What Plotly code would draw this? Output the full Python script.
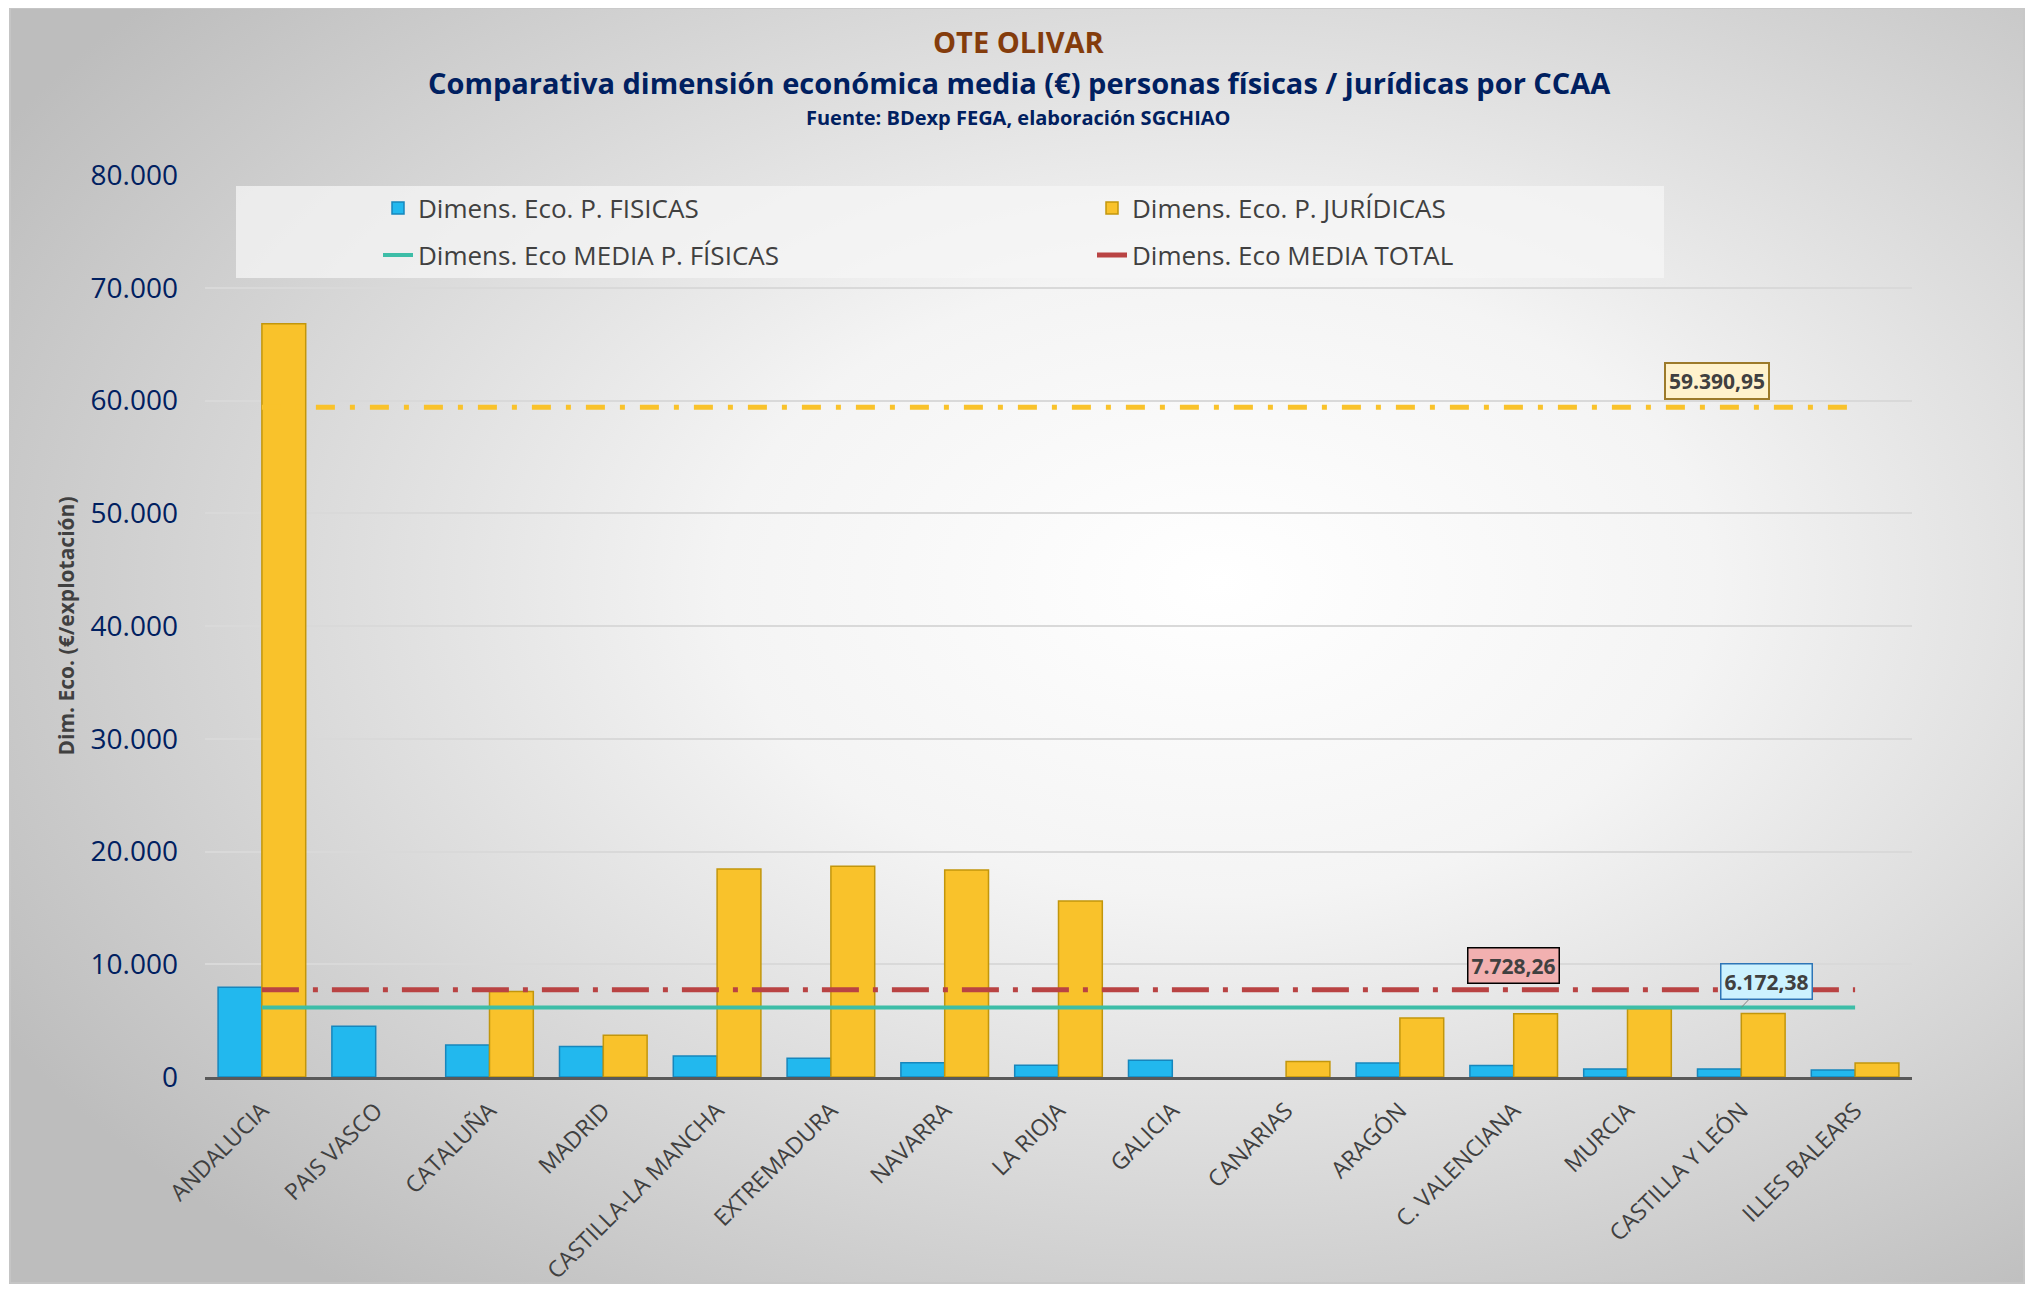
import base64
import plotly.graph_objects as go

# ---------------- data ----------------
categories = ["ANDALUCIA", "PAIS VASCO", "CATALUÑA", "MADRID", "CASTILLA-LA MANCHA",
              "EXTREMADURA", "NAVARRA", "LA RIOJA", "GALICIA", "CANARIAS", "ARAGÓN",
              "C. VALENCIANA", "MURCIA", "CASTILLA Y LEÓN", "ILLES BALEARS"]
fisicas = [7950, 4500, 2840, 2700, 1860, 1660, 1270, 1040, 1490, 0, 1240, 1010, 710, 710, 620]
juridicas = [66800, 0, 7580, 3700, 18450, 18700, 18350, 15600, 0, 1370, 5240, 5600, 6050, 5630, 1240]
media_juridicas = 59390.95
media_total = 7728.26
media_fisicas = 6172.38
y_ticks = [0, 10000, 20000, 30000, 40000, 50000, 60000, 70000, 80000]

# ---------------- geometry (page has an 8px body margin) ----------------
OFF = 8
W, H = 2033 - 2 * OFF, 1292 - 2 * OFF
L, T = 205 - OFF, 175 - OFF
R = (2033 - OFF) - 1912
B = H - (1077 - OFF)
pw = W - L - R
ph = H - T - B


def px(x):
    """reference page x -> paper x"""
    return (x - OFF - L) / pw


def py(y):
    """reference page y -> paper y"""
    return (H - B - (y - OFF)) / ph


def es(v):
    s = f"{v:,.2f}"
    return s.replace(",", "X").replace(".", ",").replace("X", ".")


def nz(vals):
    return [v if v else None for v in vals]


FONT = "Open Sans"
NAVY = "#002060"
GREY = "#404040"

# gradient background as svg image
svg = ('<svg xmlns="http://www.w3.org/2000/svg" width="2016" height="1279" '
       'viewBox="0 0 2016 1279" preserveAspectRatio="none">'
       '<defs><radialGradient id="g" cx="0.6" cy="0.45" r="0.7">'
       '<stop offset="0" stop-color="#ffffff"/>'
       '<stop offset="0.35" stop-color="#f4f4f4"/>'
       '<stop offset="1" stop-color="#bdbdbd"/>'
       '</radialGradient></defs>'
       '<rect width="2016" height="1279" fill="url(#g)"/></svg>')
svg_uri = "data:image/svg+xml;base64," + base64.b64encode(svg.encode()).decode()

fig = go.Figure()

fig.add_trace(go.Bar(
    x=categories, y=nz(fisicas), name="Dimens. Eco. P. FISICAS",
    marker=dict(color="#22B8EE", line=dict(color="#1786BC", width=1.5)),
    legend="legend"))
fig.add_trace(go.Bar(
    x=categories, y=nz(juridicas), name="Dimens. Eco. P. JURÍDICAS",
    marker=dict(color="#F9C22B", line=dict(color="#C2960C", width=1.5)),
    legend="legend"))

fig.add_trace(go.Scatter(
    x=categories, y=[media_juridicas] * len(categories), mode="lines",
    line=dict(color="#F9C22B", width=5, dash="19px,15px,5px,15px"),
    showlegend=False, hoverinfo="skip"))
fig.add_trace(go.Scatter(
    x=categories, y=[media_fisicas] * len(categories), mode="lines",
    name="Dimens. Eco MEDIA P. FÍSICAS",
    line=dict(color="#3DBDA7", width=4), legend="legend2"))
fig.add_trace(go.Scatter(
    x=categories, y=[media_total] * len(categories), mode="lines",
    name="Dimens. Eco MEDIA TOTAL",
    line=dict(color="#B94343", width=5, dash="37px,14px,5px,14px"), legend="legend2"))

annotations = [
    dict(text="<b>OTE OLIVAR</b>", x=px(1019), y=py(41), xref="paper", yref="paper",
         showarrow=False, font=dict(family=FONT, size=29, color="#843C0C"),
         xanchor="center", yanchor="middle"),
    dict(text="<b>Comparativa dimensión económica media (€) personas físicas / jurídicas por CCAA</b>",
         x=px(1019), y=py(83), xref="paper", yref="paper", showarrow=False,
         font=dict(family=FONT, size=29, color=NAVY), xanchor="center", yanchor="middle"),
    dict(text="<b>Fuente: BDexp FEGA, elaboración SGCHIAO</b>",
         x=px(1018), y=py(117), xref="paper", yref="paper", showarrow=False,
         font=dict(family=FONT, size=20, color=NAVY), xanchor="center", yanchor="middle"),
    dict(text="<b>" + es(media_juridicas) + "</b>", x="CASTILLA Y LEÓN", y=media_juridicas,
         xref="x", yref="y", showarrow=False, xshift=-24, yshift=26,
         font=dict(family=FONT, size=21, color=GREY), bgcolor="#FFF2CC",
         bordercolor="#9C7A2A", borderwidth=2, borderpad=3),
    dict(text="<b>" + es(media_total) + "</b>", x="C. VALENCIANA", y=media_total,
         xref="x", yref="y", showarrow=False, yshift=24,
         font=dict(family=FONT, size=21, color=GREY), bgcolor="#F2B0B0",
         bordercolor="#000000", borderwidth=1.5, borderpad=3),
    dict(text="<b>" + es(media_fisicas) + "</b>", x="CASTILLA Y LEÓN", y=media_fisicas,
         xref="x", yref="y", showarrow=True, arrowhead=0, arrowwidth=1,
         arrowcolor="#808080", ax=25, ay=-26,
         font=dict(family=FONT, size=21, color=GREY), bgcolor="#CCF2FF",
         bordercolor="#2E75B6", borderwidth=1.5, borderpad=3),
]

shapes = [
    dict(type="rect", xref="paper", yref="paper", x0=px(236), x1=px(1664),
         y0=py(278), y1=py(186), fillcolor="rgba(246,246,246,0.75)",
         line=dict(width=0), layer="below"),
    dict(type="rect", xref="paper", yref="paper", x0=px(10), x1=px(2024),
         y0=py(1283), y1=py(8), fillcolor="rgba(0,0,0,0)",
         line=dict(color="#c8c8c8", width=1.5), layer="below"),
]

fig.update_layout(
    width=W, height=H,
    margin=dict(l=L, r=R, t=T, b=B, autoexpand=False),
    paper_bgcolor="#ffffff",
    plot_bgcolor="rgba(0,0,0,0)",
    separators=",.",
    barmode="group", bargap=0.23, bargroupgap=0,
    font=dict(family=FONT, color=GREY),
    images=[dict(source=svg_uri, xref="paper", yref="paper", x=px(9), y=py(7),
                 sizex=(2025 - 9) / pw, sizey=(1286 - 7) / ph,
                 xanchor="left", yanchor="top", sizing="stretch", layer="below")],
    annotations=annotations,
    shapes=shapes,
    legend=dict(orientation="h", x=px(378), y=py(208), xanchor="left", yanchor="middle",
                bgcolor="rgba(0,0,0,0)", entrywidth=669, entrywidthmode="pixels",
                font=dict(family=FONT, size=26, color=GREY), traceorder="normal"),
    legend2=dict(orientation="h", x=px(378), y=py(255), xanchor="left", yanchor="middle",
                 bgcolor="rgba(0,0,0,0)", entrywidth=669, entrywidthmode="pixels",
                 font=dict(family=FONT, size=26, color=GREY), traceorder="normal"),
    xaxis=dict(showgrid=False, showline=True, linecolor="#595959", linewidth=3,
               tickangle=-45, ticks="", ticklabelstandoff=8,
               tickfont=dict(family=FONT, size=23, color=GREY)),
    yaxis=dict(range=[0, 80000], tickvals=y_ticks, tickformat=",.0f",
               showgrid=True, gridcolor="#d9d9d9", gridwidth=1.5,
               zeroline=False, showline=False, ticks="", ticklabelstandoff=26,
               tickfont=dict(family=FONT, size=28, color=NAVY),
               title=dict(text="<b>Dim. Eco. (€/explotación)</b>", standoff=10,
                          font=dict(family=FONT, size=21, color=GREY))),
)

fig.write_html("out.html")
